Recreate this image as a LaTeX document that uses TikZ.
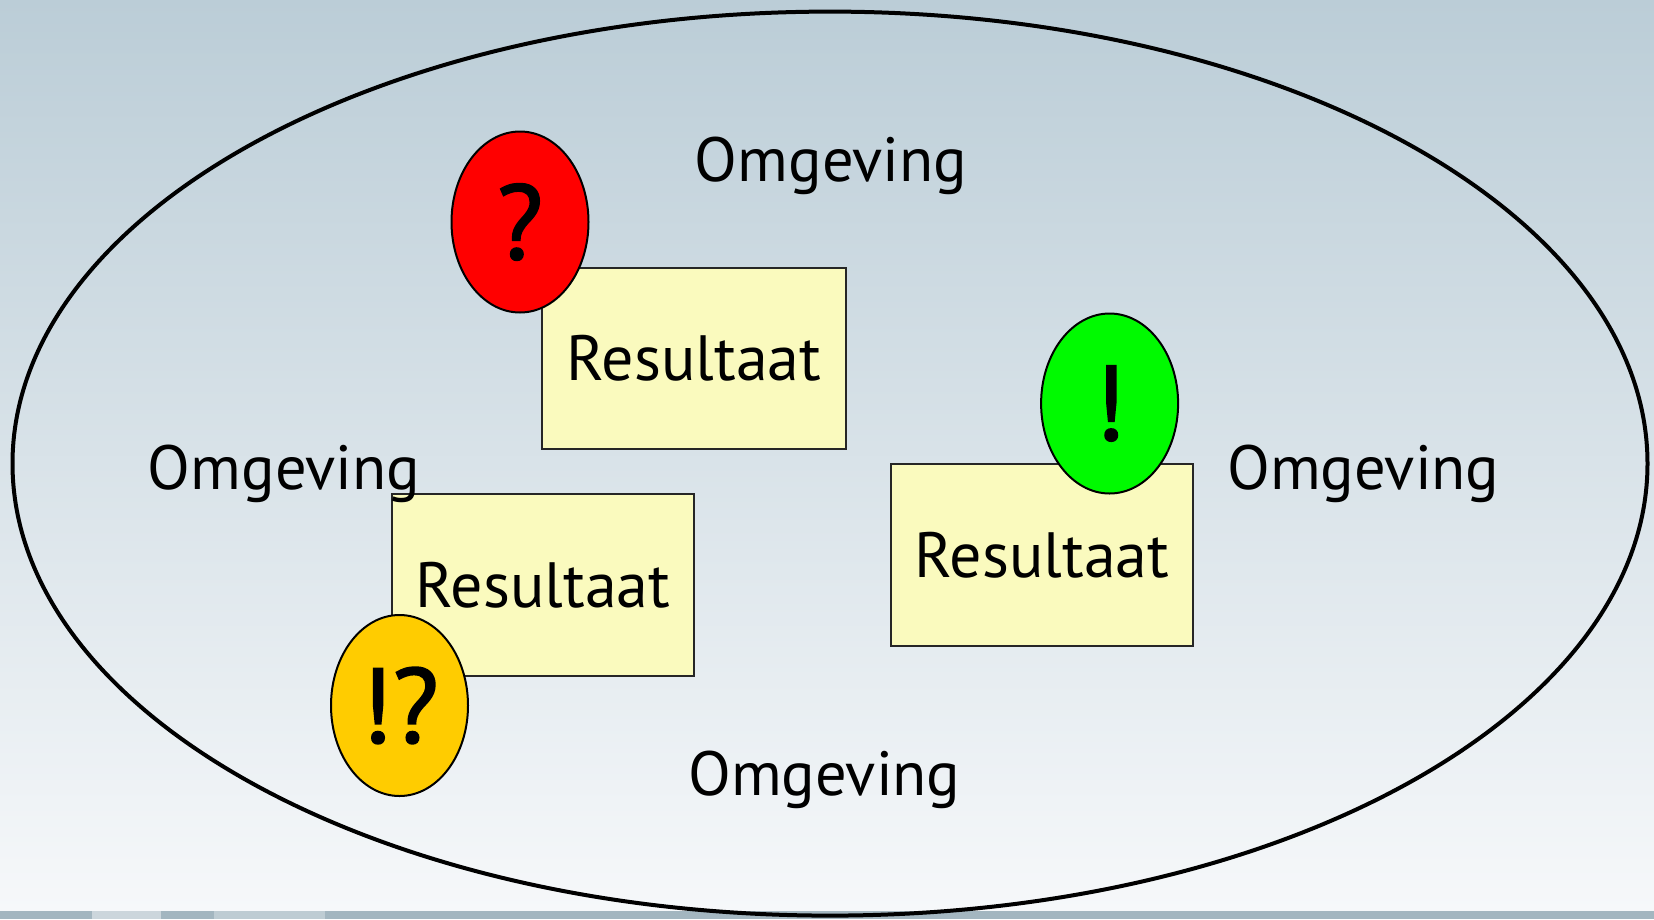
\documentclass[tikz,border=0pt]{standalone}
\usepackage{fontspec}
\setmainfont{PT Sans}
\newfontfamily\markfont[FakeBold=1.6]{PT Sans}
\usetikzlibrary{shapes.geometric}
\definecolor{bgtop}{RGB}{187,205,215}
\definecolor{bgbot}{RGB}{246,248,250}
\definecolor{stripc}{RGB}{163,182,192}
\definecolor{notefill}{RGB}{250,250,190}
\definecolor{redball}{RGB}{255,0,0}
\definecolor{greenball}{RGB}{0,250,0}
\definecolor{yellowball}{RGB}{255,204,0}
\tikzset{
  envlabel/.style={anchor=base, inner sep=0pt, font=\fontsize{62.5}{70}\selectfont},
  resbox/.style={draw=black!85, line width=2pt, fill=notefill, inner sep=0pt,
    font=\fontsize{64}{70}\selectfont},
  badge/.style={ellipse, draw=black, line width=2pt, inner sep=0pt,
    minimum width=137pt, minimum height=181pt,
    font=\markfont\fontsize{106}{110}\selectfont},
}
\begin{document}
\begin{tikzpicture}[x=1pt, y=-1pt]
  \useasboundingbox (0,0) rectangle (1654,919);
  % backdrop
  \shade[top color=bgtop, bottom color=bgbot] (0,0) rectangle (1654,911);
  \fill[stripc] (0,911) rectangle (1654,919);
  \fill[white, opacity=0.45] (92,911) rectangle (161,919);
  \fill[white, opacity=0.3] (214,911) rectangle (325,919);
  % surrounding environment
  \node[ellipse, draw=black, line width=4pt, inner sep=0pt,
        minimum width=1635pt, minimum height=904pt] (env) at (830,463.6) {};
  % results with their verdicts
  \node[resbox, minimum width=304pt, minimum height=181pt] (res1) at (694,358.5) {Resultaat};
  \node[badge, fill=redball] (q) at (520,222) {?};
  \node[resbox, minimum width=302pt, minimum height=182pt] (res2) at (543,585) {Resultaat};
  \node[badge, fill=yellowball] (eq) at (399.5,705.5) {!?};
  \node[resbox, minimum width=302pt, minimum height=181.5pt] (res3) at (1042,555) {Resultaat};
  \node[badge, fill=greenball, minimum height=180pt] (ex) at (1109.6,403.5) {!};
  % environment labels
  \node[envlabel] (omtop) at (831,181) {Omgeving};
  \node[envlabel] (omleft) at (284,489) {Omgeving};
  \node[envlabel] (omright) at (1363.5,489) {Omgeving};
  \node[envlabel] (ombottom) at (824.5,795) {Omgeving};
\end{tikzpicture}
\end{document}
